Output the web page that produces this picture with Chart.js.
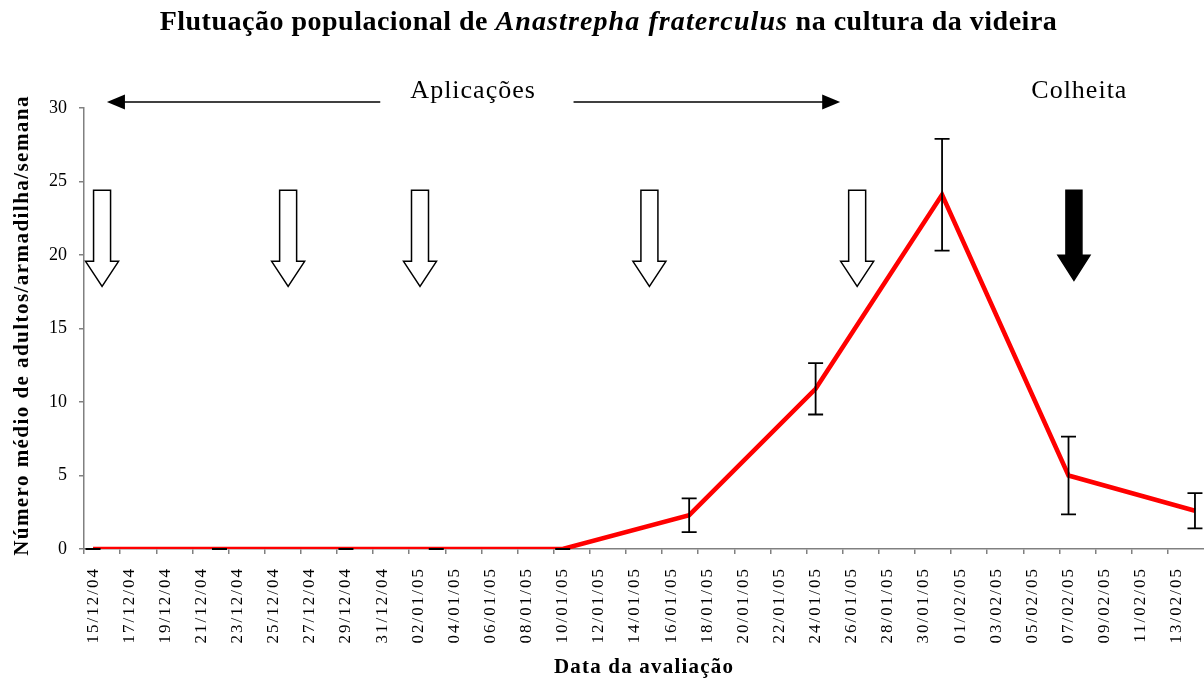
<!DOCTYPE html>
<html>
<head>
<meta charset="utf-8">
<script src="https://cdn.jsdelivr.net/npm/chart.js@4.4.1/dist/chart.umd.min.js"></script>
<style>
html, body { margin: 0; padding: 0; background: #fff; overflow: hidden; }
</style>
</head>
<body>
<canvas id="grafico" width="1204" height="682"></canvas>
<script>
// periodo avaliado: um rotulo por dia, de 15/12/04 ate 14/02/05
const inicio = new Date(2004, 11, 15);
const nDias = 62;

// dias de coleta (contados a partir de 15/12/04), media e erro
const diasColeta = [0, 7, 14, 19, 26, 33, 40, 47, 54, 61];
const mediaAdultos = [0, 0, 0, 0, 0, 2.3, 10.9, 24.1, 5.0, 2.6];
const erroPadrao = [0, 0, 0, 0, 0, 1.15, 1.75, 3.8, 2.65, 1.2];

// aplicacoes e colheita (dia desde 15/12/04)
const diasAplicacao = [0.5, 10.8, 18.1, 30.8, 42.3];
const diaColheita = 54.3;

const yTicks = [0, 5, 10, 15, 20, 25, 30];

const serif = "'Liberation Serif', 'Times New Roman', serif";

function fmt(d) {
    const dd = String(d.getDate()).padStart(2, '0');
    const mm = String(d.getMonth() + 1).padStart(2, '0');
    const aa = String(d.getFullYear()).slice(2);
    return dd + '/' + mm + '/' + aa;
}

const datas = [];
for (let i = 0; i < nDias; i++) {
    const d = new Date(inicio);
    d.setDate(inicio.getDate() + i);
    datas.push(fmt(d));
}

const serie = datas.map(() => null);
diasColeta.forEach((d, k) => { serie[d] = mediaAdultos[k]; });

function setaVazada(ctx, x, yTopo, yCabeca, yPonta, cheia) {
    const meia = cheia ? 8 : 8.5;
    const aba = cheia ? 16 : 16.5;
    ctx.beginPath();
    ctx.moveTo(x - meia, yTopo);
    ctx.lineTo(x + meia, yTopo);
    ctx.lineTo(x + meia, yCabeca);
    ctx.lineTo(x + aba, yCabeca);
    ctx.lineTo(x, yPonta);
    ctx.lineTo(x - aba, yCabeca);
    ctx.lineTo(x - meia, yCabeca);
    ctx.closePath();
    ctx.fillStyle = cheia ? '#000' : '#fff';
    ctx.fill();
    ctx.lineWidth = 1.5;
    ctx.strokeStyle = '#000';
    ctx.stroke();
}

function setaHorizontal(ctx, x0, x1, y) {
    const dir = x1 > x0 ? 1 : -1;
    ctx.beginPath();
    ctx.moveTo(x0, y);
    ctx.lineTo(x1 - dir * 16, y);
    ctx.lineWidth = 1.6;
    ctx.strokeStyle = '#000';
    ctx.stroke();
    ctx.beginPath();
    ctx.moveTo(x1, y);
    ctx.lineTo(x1 - dir * 18, y - 7.5);
    ctx.lineTo(x1 - dir * 18, y + 7.5);
    ctx.closePath();
    ctx.fillStyle = '#000';
    ctx.fill();
}

const anotacoes = {
    id: 'anotacoes',
    beforeDraw(chart) {
        const sx = chart.scales.x;
        if (!sx._espacado) {
            const orig = sx.drawLabels;
            sx.drawLabels = function (area) {
                const c = this.ctx;
                c.save();
                c.letterSpacing = '2px';
                orig.call(this, area);
                c.restore();
            };
            sx._espacado = true;
        }
    },
    afterDatasetsDraw(chart) {
        const ctx = chart.ctx;
        const x = chart.scales.x, y = chart.scales.y;
        ctx.save();
        ctx.strokeStyle = '#000';
        ctx.lineWidth = 1.8;
        diasColeta.forEach((d, k) => {
            const px = x.getPixelForValue(d);
            const yt = y.getPixelForValue(mediaAdultos[k] + erroPadrao[k]);
            const yb = y.getPixelForValue(mediaAdultos[k] - erroPadrao[k]);
            ctx.beginPath();
            ctx.moveTo(px, yt); ctx.lineTo(px, yb);
            ctx.moveTo(px - 7.5, yt); ctx.lineTo(px + 7.5, yt);
            ctx.moveTo(px - 7.5, yb); ctx.lineTo(px + 7.5, yb);
            ctx.stroke();
        });
        ctx.restore();
    },
    afterDraw(chart) {
        const ctx = chart.ctx;
        const x = chart.scales.x, y = chart.scales.y;
        const area = chart.chartArea;
        ctx.save();
        ctx.fillStyle = '#000';

        // titulo com parte em italico
        const partes = [
            { t: 'Flutuação populacional de ', f: 'bold 28px ' + serif, esp: 0.5 },
            { t: 'Anastrepha fraterculus', f: 'italic bold 28px ' + serif, esp: 1.1 },
            { t: ' na cultura da videira', f: 'bold 28px ' + serif, esp: 0.5 }
        ];
        let total = 0;
        partes.forEach(p => {
            ctx.font = p.f;
            ctx.letterSpacing = p.esp + 'px';
            p.w = ctx.measureText(p.t).width;
            total += p.w;
        });
        let cx = 608.5 - total / 2;
        ctx.textAlign = 'left';
        ctx.textBaseline = 'alphabetic';
        partes.forEach(p => {
            ctx.font = p.f;
            ctx.letterSpacing = p.esp + 'px';
            ctx.fillText(p.t, cx, 30);
            cx += p.w;
        });

        // titulos dos eixos
        ctx.font = 'bold 21px ' + serif;
        ctx.letterSpacing = '1.2px';
        ctx.textAlign = 'center';
        ctx.textBaseline = 'middle';
        ctx.fillText('Data da avaliação', (area.left + area.right) / 2, 668);
        ctx.save();
        ctx.letterSpacing = '1.45px';
        ctx.translate(23, (area.top + area.bottom) / 2 - 3);
        ctx.rotate(-Math.PI / 2);
        ctx.fillText('Número médio de adultos/armadilha/semana', 0, 0);
        ctx.restore();

        // aplicacoes
        const topo = y.getPixelForValue(30);
        ctx.font = '26px ' + serif;
        ctx.letterSpacing = '1px';
        ctx.textBaseline = 'alphabetic';
        ctx.fillText('Aplicações', x.getPixelForValue(21.04), topo - 10.5);
        ctx.fillText('Colheita', x.getPixelForValue(54.6), topo - 10.5);
        ctx.letterSpacing = '0px';
        setaHorizontal(ctx, x.getPixelForValue(15.9), x.getPixelForValue(0.77), topo - 6);
        setaHorizontal(ctx, x.getPixelForValue(26.6), x.getPixelForValue(41.36), topo - 6);

        const yTopo = y.getPixelForValue(24.4);
        diasAplicacao.forEach(d => {
            setaVazada(ctx, x.getPixelForValue(d), yTopo, yTopo + 71, yTopo + 96, false);
        });
        setaVazada(ctx, x.getPixelForValue(diaColheita), yTopo, yTopo + 65, yTopo + 90, true);
        ctx.restore();
    }
};

const ctx = document.getElementById('grafico').getContext('2d');
new Chart(ctx, {
    type: 'line',
    data: {
        labels: datas,
        datasets: [{
            data: serie,
            borderColor: '#ff0000',
            borderWidth: 4.5,
            pointRadius: 0,
            spanGaps: true,
            tension: 0,
            fill: false
        }]
    },
    options: {
        responsive: false,
        animation: false,
        layout: { padding: { top: 108, left: 0, right: 0, bottom: 0 } },
        plugins: {
            legend: { display: false },
            tooltip: { enabled: false },
            title: { display: false }
        },
        scales: {
            x: {
                offset: true,
                grid: {
                    offset: true,
                    drawOnChartArea: false,
                    tickLength: 5,
                    lineWidth: 1.5,
                    color: c => (c.index % 2 === 0 ? '#808080' : 'rgba(0,0,0,0)')
                },
                border: { color: '#808080', width: 1.5 },
                ticks: {
                    autoSkip: false,
                    maxRotation: 90,
                    minRotation: 90,
                    padding: 13,
                    color: '#000',
                    font: { family: serif, size: 17 },
                    callback: function (v, i) {
                        return i % 2 === 0 ? this.getLabelForValue(v) : '';
                    }
                },
                afterFit: s => {
                    s.height = 133;
                    s.paddingLeft = 0;
                    s.paddingRight = 0;
                }
            },
            y: {
                min: 0,
                max: 30,
                afterBuildTicks: s => { s.ticks = yTicks.map(v => ({ value: v })); },
                grid: { drawOnChartArea: false, tickLength: 5, lineWidth: 1.5, color: '#808080' },
                border: { color: '#808080', width: 1.5 },
                ticks: { padding: 12, color: '#000', font: { family: serif, size: 18 } },
                afterFit: s => { s.width = 84; }
            }
        }
    },
    plugins: [anotacoes]
});
</script>
</body>
</html>
